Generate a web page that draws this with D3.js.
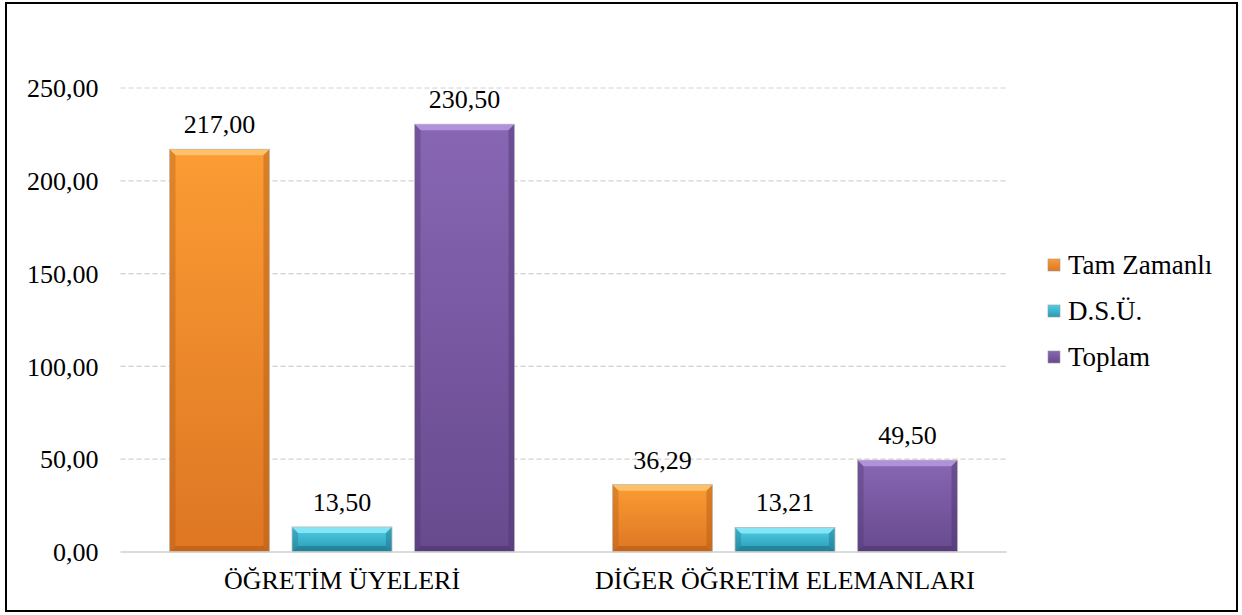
<!DOCTYPE html>
<html>
<head>
<meta charset="utf-8">
<script src="https://cdn.jsdelivr.net/npm/d3@7"></script>
<style>
  body { margin: 0; background: #fff; }
  svg text { font-family: "Liberation Serif", "DejaVu Serif", "Times New Roman", Times, serif; }
</style>
</head>
<body>
<svg id="chart" width="1242" height="615"></svg>
<script>
'use strict';

var categories = ["ÖĞRETİM ÜYELERİ", "DİĞER ÖĞRETİM ELEMANLARI"];
var seriesNames = ["Tam Zamanlı", "D.S.Ü.", "Toplam"];
var tamZamanli = [217.00, 36.29];
var dsu = [13.50, 13.21];
var toplam = [230.50, 49.50];
var yTicks = [0, 50, 100, 150, 200, 250];

// colours per series: top, bottom, light edge, dark edge
var palette = [
    {top: "#fb9c34", bot: "#de7623", light: "#ffc872", dark: "#b35a12"},
    {top: "#4fd0e8", bot: "#2a98b2", light: "#8eeaf8", dark: "#1c7288"},
    {top: "#8866b4", bot: "#674a8e", light: "#b79ae0", dark: "#4d336e"}
];

var data = categories.map(function (c, i) {
    return {cat: c, values: [tamZamanli[i], dsu[i], toplam[i]]};
});

var svg = d3.select("#chart");
var margin = {left: 120.5, right: 235.5, top: 88, bottom: 63};
var width = 1242 - margin.left - margin.right,
    height = 615 - margin.top - margin.bottom;
var fs = "26px";

// outer frame
svg.append("rect")
    .attr("x", 6).attr("y", 3)
    .attr("width", 1231).attr("height", 608)
    .attr("fill", "none").attr("stroke", "#000").attr("stroke-width", 2);

var x0 = d3.scaleBand().domain(categories).range([0, width]);
var x1 = d3.scaleBand().domain(seriesNames)
    .range([x0.bandwidth() / 2 - 172.5, x0.bandwidth() / 2 + 172.5])
    .paddingInner(0.184);
var y = d3.scaleLinear().domain([0, 250]).range([height, 0]);

var defs = svg.append("defs");
palette.forEach(function (p, i) {
    var g = defs.append("linearGradient").attr("id", "grad" + i)
        .attr("x1", 0).attr("y1", 0).attr("x2", 0).attr("y2", 1);
    g.append("stop").attr("offset", "0%").attr("stop-color", p.top);
    g.append("stop").attr("offset", "100%").attr("stop-color", p.bot);
});

var g = svg.append("g")
    .attr("transform", "translate(" + margin.left + "," + margin.top + ")");

// grid
g.selectAll(".grid")
    .data(yTicks.slice(1))
    .enter().append("line")
    .attr("x1", 0).attr("x2", width)
    .attr("y1", function (d) { return y(d); })
    .attr("y2", function (d) { return y(d); })
    .attr("stroke", "#d0d0d0").attr("stroke-width", 1.2)
    .attr("stroke-dasharray", "5,3");

// y axis labels
var fmt = function (v) { return d3.format(".2f")(v).replace(".", ","); };
g.selectAll(".ylab")
    .data(yTicks)
    .enter().append("text")
    .attr("x", -22)
    .attr("y", function (d) { return y(d); })
    .attr("dy", "0.35em")
    .attr("text-anchor", "end")
    .attr("font-size", fs)
    .text(fmt);

// bars
var bev = 6;
var groups = g.selectAll(".grp")
    .data(data)
    .enter().append("g")
    .attr("transform", function (d) { return "translate(" + x0(d.cat) + ",0)"; });

groups.each(function (d) {
    var grp = d3.select(this);
    d.values.forEach(function (v, i) {
        var bx = x1(seriesNames[i]), bw = x1.bandwidth();
        var by = y(v), bh = height - y(v);
        var p = palette[i];
        var b = Math.min(bev, bh / 2);
        grp.append("rect")
            .attr("x", bx).attr("y", by)
            .attr("width", bw).attr("height", bh)
            .attr("fill", "url(#grad" + i + ")");
        // bevel edges
        var pts = function (a) { return a.map(function (q) { return q.join(","); }).join(" "); };
        grp.append("polygon")
            .attr("points", pts([[bx, by], [bx + bw, by], [bx + bw - b, by + b], [bx + b, by + b]]))
            .attr("fill", p.light).attr("opacity", 0.85);
        grp.append("polygon")
            .attr("points", pts([[bx, by], [bx + b, by + b], [bx + b, by + bh - b], [bx, by + bh]]))
            .attr("fill", p.dark).attr("opacity", 0.35);
        grp.append("polygon")
            .attr("points", pts([[bx + bw, by], [bx + bw - b, by + b], [bx + bw - b, by + bh - b], [bx + bw, by + bh]]))
            .attr("fill", p.dark).attr("opacity", 0.45);
        grp.append("polygon")
            .attr("points", pts([[bx, by + bh], [bx + b, by + bh - b], [bx + bw - b, by + bh - b], [bx + bw, by + bh]]))
            .attr("fill", p.dark).attr("opacity", 0.6);
        grp.append("rect")
            .attr("x", bx).attr("y", by)
            .attr("width", bw).attr("height", bh)
            .attr("fill", "none").attr("stroke", "#bbb").attr("stroke-width", 0.8);
        grp.append("text")
            .attr("x", bx + bw / 2)
            .attr("y", by - 16)
            .attr("text-anchor", "middle")
            .attr("font-size", fs)
            .text(fmt(v));
    });
});

// baseline
g.append("line")
    .attr("x1", 0).attr("x2", width)
    .attr("y1", height).attr("y2", height)
    .attr("stroke", "#d0d0d0").attr("stroke-width", 1.5);

// category labels
g.selectAll(".xlab")
    .data(categories)
    .enter().append("text")
    .attr("x", function (d) { return x0(d) + x0.bandwidth() / 2; })
    .attr("y", height + 37)
    .attr("text-anchor", "middle")
    .attr("font-size", fs)
    .text(function (d) { return d; });

// legend
var legend = svg.append("g").attr("transform", "translate(1048,265)");
seriesNames.forEach(function (s, i) {
    var row = legend.append("g").attr("transform", "translate(0," + (i * 46) + ")");
    row.append("rect")
        .attr("x", 0).attr("y", -6).attr("width", 12).attr("height", 12)
        .attr("fill", "url(#grad" + i + ")")
        .attr("stroke", "#999").attr("stroke-width", 0.6);
    row.append("text")
        .attr("x", 20).attr("y", 0).attr("dy", "0.35em")
        .attr("font-size", "27px")
        .text(s);
});
</script>
</body>
</html>
